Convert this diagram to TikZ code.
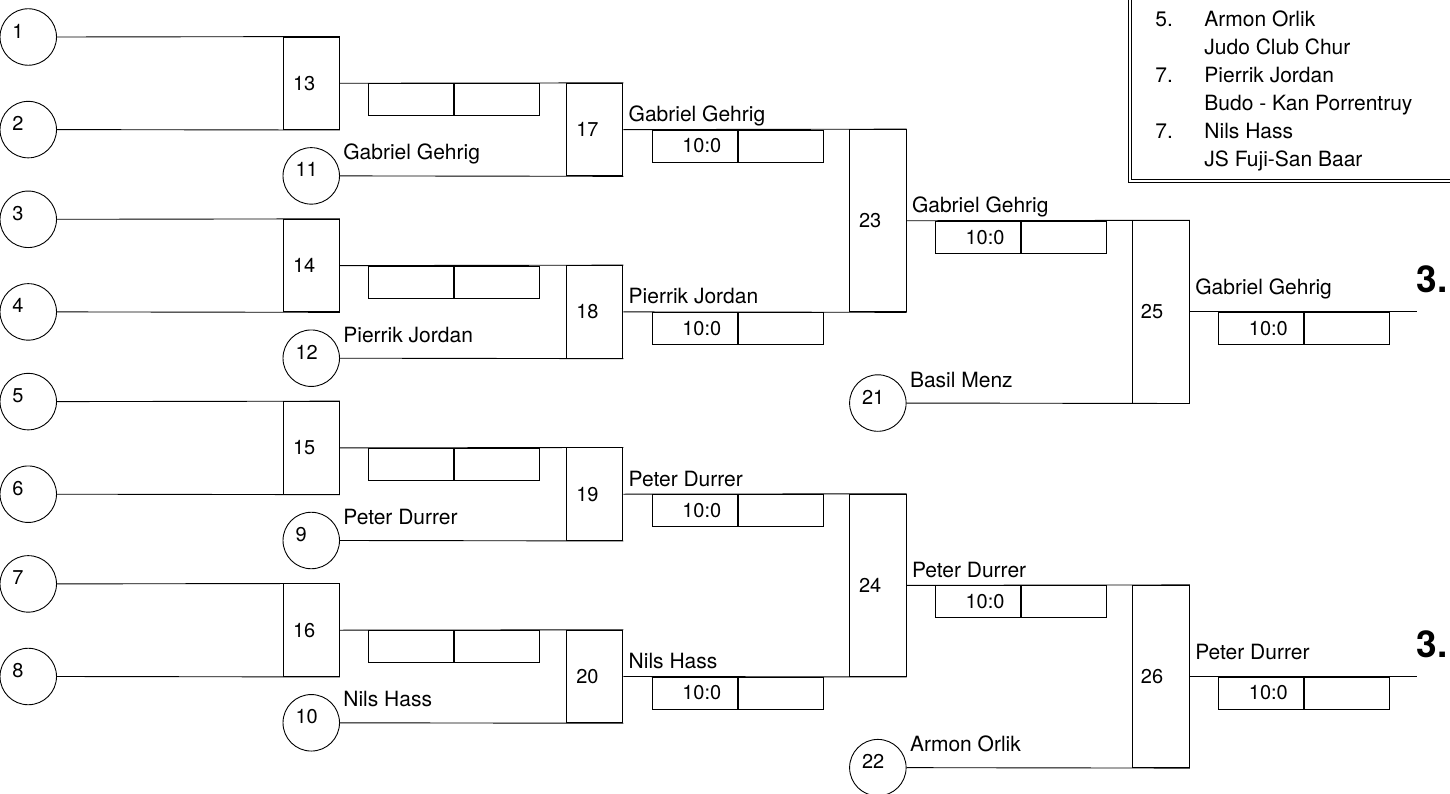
\documentclass[tikz,border=0pt]{standalone}
\usepackage{fontspec}
\setmainfont{TeX Gyre Heros}
\usetikzlibrary{calc}
\begin{document}
\begin{tikzpicture}[x=1pt,y=-1pt,line width=0.9pt,
  seed/.style={draw,circle,minimum size=56.5pt,inner sep=0pt},
  mbox/.style={draw,rectangle,minimum width=56.5pt,inner sep=0pt},
  cell/.style={draw,rectangle,minimum width=85pt,minimum height=32pt,inner sep=0pt,anchor=north west},
  num/.style={font=\fontsize{20}{24}\selectfont,inner sep=0pt,anchor=west},
  pname/.style={font=\fontsize{21}{25}\selectfont,inner sep=0pt,anchor=base west},
  place/.style={font=\fontsize{37}{44}\selectfont\bfseries,inner sep=0pt,anchor=base east}]
\useasboundingbox (0,0) rectangle (1450,794);
\clip (0,0) rectangle (1450,794);

% first column of seeds
\foreach \n/\y in {1/37,2/129.6,3/219.3,4/311.9,5/401.6,6/494.2,7/583.9,8/676.5}{
  \node[seed] (c\n) at (28.25,\y) {};
  \node[num] (ct\n) at ($(c\n.west)+(12.5,-6)$) {\n};
}
% second column of seeds
\foreach \n/\y/\nm in {11/175.9/Gabriel Gehrig,12/358.2/Pierrik Jordan,9/540.5/Peter Durrer,10/722.8/Nils Hass}{
  \node[seed] (c\n) at (311.25,\y) {};
  \node[num] (ct\n) at ($(c\n.west)+(12.5,-6)$) {\n};
  \node[pname] (cn\n) at ($(c\n.east)+(3,-16)$) {\nm};
}
% third column of seeds
\foreach \n/\y/\nm in {21/403.05/Basil Menz,22/767.65/Armon Orlik}{
  \node[seed] (c\n) at (877.85,\y) {};
  \node[num] (ct\n) at ($(c\n.west)+(12.5,-6)$) {\n};
  \node[pname] (cn\n) at ($(c\n.east)+(3,-16)$) {\nm};
}

% round 1 boxes
\foreach \n/\y/\a/\b in {13/83.3/1/2,14/265.6/3/4,15/447.9/5/6,16/630.2/7/8}{
  \node[mbox,minimum height=92.6pt] (b\n) at (311.25,\y) {};
  \node[num] (bt\n) at ($(b\n.west)+(10,0)$) {\n};
  \draw (c\a.east) -- (b\n.north east);
  \draw (c\b.east) -- (b\n.south east);
  \node[cell] (s\n a) at ($(b\n.east)+(28.5,0)$) {};
  \node[cell] (s\n b) at (s\n a.north east) {};
}
% round 2 boxes
\foreach \n/\y/\a/\b/\nm in {17/129.6/13/11/Gabriel Gehrig,18/311.9/14/12/Pierrik Jordan,19/494.2/15/9/Peter Durrer,20/676.5/16/10/Nils Hass}{
  \node[mbox,minimum height=92.6pt] (b\n) at (594.55,\y) {};
  \node[num] (bt\n) at ($(b\n.west)+(10,0)$) {\n};
  \draw (b\a.east) -- (b\n.north east);
  \draw (c\b.east) -- (b\n.south east);
  \node[pname] (bn\n) at ($(b\n.east)+(5,-8)$) {\nm};
  \node[cell] (s\n a) at ($(b\n.east)+(28.5,0)$) {};
  \node[cell] (s\n b) at (s\n a.north east) {};
  \node[num,anchor=east] (sc\n) at ($(s\n a.east)+(-16,0)$) {10:0};
}
% round 3 boxes
\foreach \n/\y/\a/\b/\nm in {23/220.75/17/18/Gabriel Gehrig,24/585.35/19/20/Peter Durrer}{
  \node[mbox,minimum height=182.3pt] (b\n) at (877.85,\y) {};
  \node[num] (bt\n) at ($(b\n.west)+(9.5,0)$) {\n};
  \draw (b\a.east) -- (b\n.north east);
  \draw (b\b.east) -- (b\n.south east);
  \node[pname] (bn\n) at ($(b\n.east)+(5,-8)$) {\nm};
  \node[cell] (s\n a) at ($(b\n.east)+(28.5,0)$) {};
  \node[cell] (s\n b) at (s\n a.north east) {};
  \node[num,anchor=east] (sc\n) at ($(s\n a.east)+(-16,0)$) {10:0};
}
% round 4 boxes
\foreach \n/\y/\a/\b/\nm in {25/311.9/23/21/Gabriel Gehrig,26/676.5/24/22/Peter Durrer}{
  \node[mbox,minimum height=182.3pt] (b\n) at (1161.15,\y) {};
  \node[num] (bt\n) at ($(b\n.west)+(8,0)$) {\n};
  \draw (b\a.east) -- (b\n.north east);
  \draw (c\b.east) -- (b\n.south east);
  \node[pname] (bn\n) at ($(b\n.east)+(5,-17)$) {\nm};
  \coordinate (e\n) at (1417,\y);
  \draw (b\n.east) -- (e\n);
  \node[place] (pl\n) at ($(e\n)+(31,-19)$) {3.};
  \node[cell] (s\n a) at ($(b\n.east)+(28.5,0)$) {};
  \node[cell] (s\n b) at (s\n a.north east) {};
  \node[num,anchor=east] (sc\n) at ($(s\n a.east)+(-16,0)$) {10:0};
}

% legend frame
\draw[line width=0.8pt] (1128,-5) -- (1128,182) -- (1460,182);
\draw[line width=0.8pt] (1131,-5) -- (1131,179.5) -- (1460,179.5);
\node[pname] (l1) at (1155,27) {5.};
\node[pname] (l2) at (1204,27) {Armon Orlik};
\node[pname] (l3) at (1204,55) {Judo Club Chur};
\node[pname] (l4) at (1155,83) {7.};
\node[pname] (l5) at (1204,83) {Pierrik Jordan};
\node[pname] (l6) at (1204,111) {Budo - Kan Porrentruy};
\node[pname] (l7) at (1155,139) {7.};
\node[pname] (l8) at (1204,139) {Nils Hass};
\node[pname] (l9) at (1204,167) {JS Fuji-San Baar};
\end{tikzpicture}
\end{document}
